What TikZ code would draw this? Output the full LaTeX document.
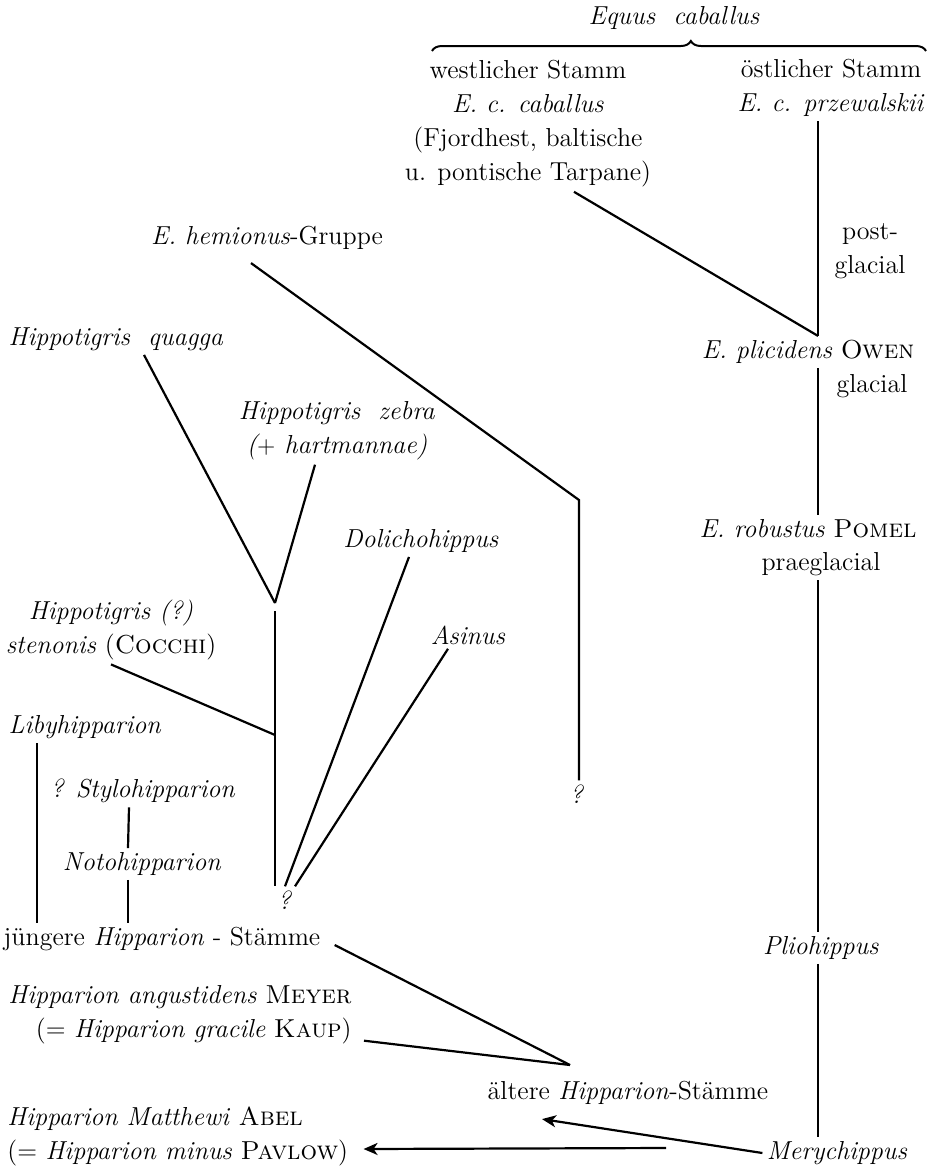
\documentclass[tikz,border=0pt]{standalone}
\usepackage{fontspec}
\usetikzlibrary{positioning, arrows.meta, decorations.pathreplacing}

\begin{document}
\begin{tikzpicture}[x=0.5pt, y=-0.5pt,
  taxon/.style={inner sep=2pt, align=center, font=\fontsize{13}{17}\selectfont},
  stem/.style={line width=1.1pt},
  arr/.style={stem, -{Stealth[length=7pt, width=6pt, inset=2pt]}}
]
\useasboundingbox (0,0) rectangle (928,1168);

% Equus caballus
\node[taxon] (equus) at (674,18) {\textit{Equus\ \ caballus}};
\draw[decorate, decoration={brace, amplitude=5pt, aspect=0.524}, line width=1pt]
  (432,51) -- (926,51);

% right column
\node[taxon] (west) at (528,124) {westlicher Stamm\\ \textit{E. c. caballus}\\
  (Fjordhest, baltische\\ u. pontische Tarpane)};
\node[taxon] (east) at (831,88) {östlicher Stamm\\ \textit{E. c. przewalskii}};
\node[taxon] (post) at (870,251) {post-\\ glacial};
\node[taxon] (plic) at (808,352) {\textit{E. plicidens} \textsc{Owen}};
\node[taxon] (glac) at (872,386) {glacial};
\node[taxon] (robu) at (808,529) {\textit{E. robustus} \textsc{Pomel}};
\node[taxon] (praeg) at (821,564) {praeglacial};
\node[taxon] (plio) at (821,948) {\textit{Pliohippus}};
\node[taxon] (mery) at (837,1153) {\textit{Merychippus}};

% left side
\node[taxon] (hemi) at (267,238) {\textit{E. hemionus}-Gruppe};
\node[taxon] (qmark1) at (577,794) {\textit{?}};
\node[taxon] (quag) at (116,339) {\textit{Hippotigris\ \ quagga}};
\node[taxon] (zebra) at (337,431) {\textit{Hippotigris\ \ zebra}\\ \textit{($+$ hartmannae)}};
\node[taxon] (doli) at (421,541) {\textit{Dolichohippus}};
\node[taxon] (asin) at (468,635) {\textit{Asinus}};
\node[taxon] (sten) at (111,630) {\textit{Hippotigris (?)}\\ \textit{stenonis} (\textsc{Cocchi})};
\node[taxon] (liby) at (85,727) {\textit{Libyhipparion}};
\node[taxon] (stylo) at (143,791) {\textit{? Stylohipparion}};
\node[taxon] (noto) at (142,864) {\textit{Notohipparion}};
\node[taxon] (qmark2) at (285,900) {\textit{?}};
\node[taxon] (jung) at (162,939) {jüngere \textit{Hipparion} - Stämme};
\node[taxon, anchor=east, align=right] (angu) at (356,1015)
  {\textit{Hipparion angustidens} \textsc{Meyer}\\ (= \textit{Hipparion gracile} \textsc{Kaup})};
\node[taxon] (alt) at (628,1093) {ältere \textit{Hipparion}-Stämme};
\node[taxon, anchor=west, align=left] (matt) at (3,1136)
  {\textit{Hipparion Matthewi} \textsc{Abel}\\ (= \textit{Hipparion minus} \textsc{Pavlow})};

\coordinate (spine) at (818,0);
\coordinate (jzeb) at (275,603);
\coordinate (jsten) at (275,735);
\coordinate (jhemi) at (579,500);
\coordinate (jalt) at (570,1065);
\coordinate (tail) at (666,1148);

% Equus line
\draw[stem] (east.south -| spine) -- (plic.north -| spine);
\draw[stem] ([xshift=23pt]west.south) -- (plic.north -| spine);
\draw[stem] (plic.south -| spine) -- (robu.north -| spine);
\draw[stem] (praeg.south -| spine) -- (plio.north -| spine);
\draw[stem] (plio.south -| spine) -- (mery.north -| spine);

% Hemionus
\draw[stem] ([xshift=-8pt, yshift=-4.5pt]hemi.south) -- (jhemi) -- (jhemi |- qmark1.north);

% Hippotigris
\draw[stem] ([xshift=14pt]quag.south) -- (jzeb);
\draw[stem] ([xshift=-11pt]zebra.south) -- (jzeb);
\draw[stem] ([yshift=-4pt]jzeb) -- ([xshift=-5pt]qmark2.north);
\draw[stem] (sten.south) -- (jsten);

% Dolichohippus, Asinus
\draw[stem] ([xshift=-6pt]doli.south) -- (qmark2.north);
\draw[stem] ([xshift=-10pt]asin.south) -- ([xshift=5pt]qmark2.north);

% Hipparion
\draw[stem] ([xshift=-24pt]liby.south) -- ([xshift=-24pt]liby.south |- jung.north);
\draw[stem] ([xshift=-7pt]stylo.south) -- ([xshift=-7pt]noto.north);
\draw[stem] ([xshift=-7pt]noto.south) -- ([xshift=-7pt]noto.south |- jung.north);
\draw[stem] ([xshift=5pt, yshift=-3pt]jung.east) -- (jalt);
\draw[stem] ([xshift=4pt, yshift=4pt]angu.south east) -- (jalt);

% Merychippus
\draw[arr] (mery.west) -- ([xshift=-43pt, yshift=-5pt]alt.south);
\draw[arr] (tail) -- ([xshift=5.5pt, yshift=-6.5pt]matt.east);

\end{tikzpicture}
\end{document}
